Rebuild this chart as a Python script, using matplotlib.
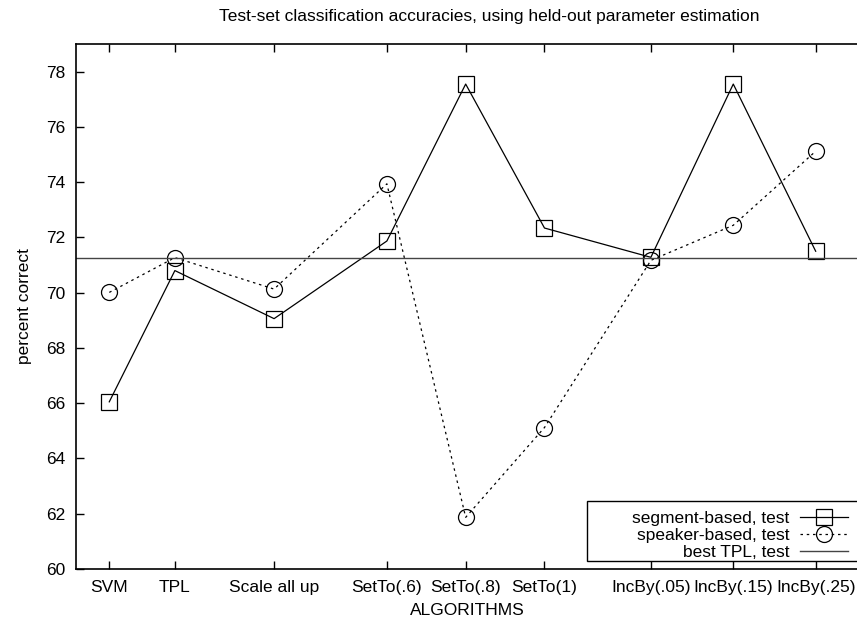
import matplotlib.pyplot as plt
from matplotlib.patches import Rectangle

plt.rcParams['font.family'] = ['Liberation Sans', 'DejaVu Sans']

# algorithms on the x axis (positions are uneven, as in the original plot)
algorithms = ['SVM', 'TPL', 'Scale all up', 'SetTo(.6)', 'SetTo(.8)', 'SetTo(1)',
              'IncBy(.05)', 'IncBy(.15)', 'IncBy(.25)']
xpos = [1.0, 1.82, 3.06, 4.47, 5.455, 6.44, 7.77, 8.80, 9.83]

segment_based = [66.05, 70.80, 69.06, 71.87, 77.55, 72.34, 71.28, 77.55, 71.50]
speaker_based = [70.01, 71.27, 70.13, 73.94, 61.87, 65.12, 71.17, 72.44, 75.12]
best_tpl = 71.27

FS = 12.5
fig = plt.figure(figsize=(8.57, 6.21), dpi=100)
W, H = 857, 621
ax = fig.add_axes([76 / W, (H - 569) / H, (858 - 76) / W, (569 - 44) / H])

ax.plot(xpos, segment_based, color='black', lw=0.9, marker='s', ms=11.5,
        mfc='none', mec='black', mew=0.9, label='segment-based, test')
ax.plot(xpos, speaker_based, color='black', lw=0.9, ls=(0, (2, 3)), marker='o', ms=11.5,
        mfc='none', mec='black', mew=0.9, label='speaker-based, test')
ax.axhline(best_tpl, color='#444444', lw=1.0, label='best TPL, test')

ax.set_xlim(0.584, 10.359)
ax.set_ylim(60, 79)
ax.set_yticks(range(60, 79, 2))
ax.set_xticks(xpos)
ax.set_xticklabels(algorithms)
ax.tick_params(direction='in', length=6, width=1, labelsize=FS, top=True)
ax.tick_params(axis='x', pad=8)
ax.tick_params(axis='y', pad=8)
for s in ax.spines.values():
    s.set_linewidth(1.2)

ax.set_xlabel('ALGORITHMS', fontsize=FS, labelpad=5.5)
ax.set_ylabel('percent correct', fontsize=FS, labelpad=10)
fig.text(489.5 / W, 1 - 16 / H, 'Test-set classification accuracies, using held-out parameter estimation',
         ha='center', va='center', fontsize=FS)

leg = ax.legend(loc='lower right', bbox_to_anchor=(851 / W, (H - 563) / H),
                bbox_transform=fig.transFigure, markerfirst=False,
                fancybox=False, framealpha=0, fontsize=FS,
                borderaxespad=0, handlelength=2.8, labelspacing=0.12, borderpad=0.15,
                handletextpad=0.6)
leg.get_frame().set_visible(False)
leg.set_zorder(6)
# gnuplot-style key box, cut at the right edge of the picture
ax.add_patch(Rectangle((587 / W, (H - 561) / H), 280 / W, 60 / H,
                       transform=fig.transFigure, facecolor='white',
                       edgecolor='black', lw=1.0, zorder=4, clip_on=False))

fig.savefig('out.png', dpi=100)
